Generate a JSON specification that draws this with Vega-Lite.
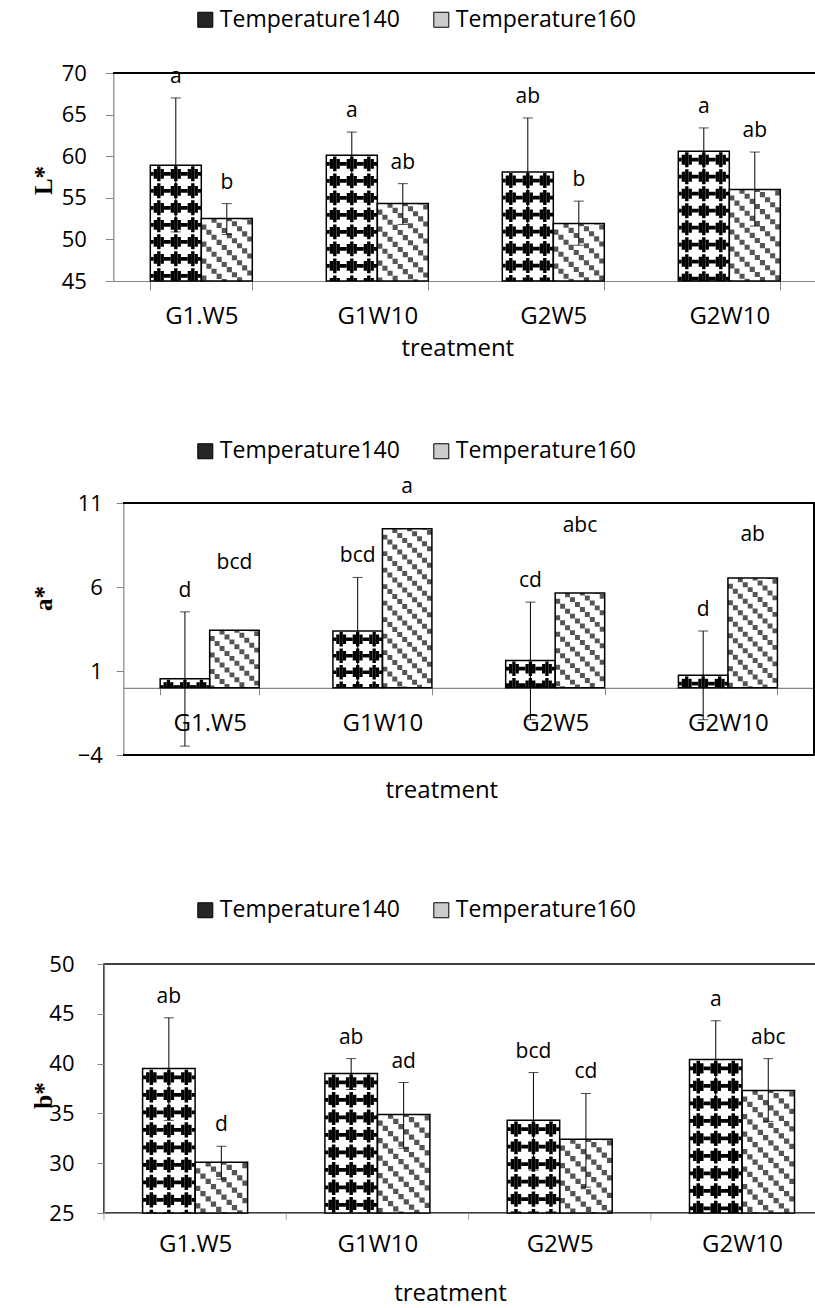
{
"$schema":"https://vega.github.io/schema/vega-lite/v6.json",
"padding":{"left":30,"top":8,"right":0,"bottom":0},
"spacing":79,
"resolve":{"scale":{"x":"independent","y":"independent","fill":"independent","xOffset":"independent"},"legend":{"fill":"independent"}},
"config":{
 "font":"Open Sans",
 "view":{"stroke":"#000000","strokeWidth":1.5},
 "axis":{"grid":false,"domainColor":"#868686","domainWidth":1.2,"tickColor":"#868686","tickWidth":1,"labelColor":"#000000","labelFont":"Open Sans","labelFontSize":22,"titleColor":"#000000","titleFont":"Open Sans","titleFontSize":24,"titleFontWeight":"normal"},
 "axisX":{"labelAngle":0,"labelFontSize":24,"tickBand":"extent","labelBaseline":"alphabetic","titleBaseline":"alphabetic","titleAlign":"center","labelFlush":false,"labelOverlap":false},
 "axisY":{"titleFont":"Liberation Serif","titleFontWeight":"bold","titleFontSize":25,"titleAngle":270,"titleBaseline":"middle","titleAlign":"center","labelBaseline":"middle"},
 "legend":{"orient":"none","direction":"horizontal","symbolType":"square","symbolSize":225,"symbolStrokeColor":"#000000","symbolStrokeWidth":1,"labelFont":"Open Sans","labelFontSize":23,"labelColor":"#000000","labelOffset":3,"columnPadding":29,"padding":0,"labelLimit":300},
 "rule":{"color":"#000000","strokeCap":"butt"},
 "tick":{"color":"#000000","thickness":1},
 "text":{"color":"#000000","font":"Open Sans"}
},
"datasets":{
 "L":[
  {"treatment":"G1.W5","temp":"Temperature140","mean":58.9,"lo":50.9,"hi":67.0,"letter":"a"},
  {"treatment":"G1.W5","temp":"Temperature160","mean":52.5,"lo":50.6,"hi":54.3,"letter":"b"},
  {"treatment":"G1W10","temp":"Temperature140","mean":60.1,"lo":57.2,"hi":62.9,"letter":"a"},
  {"treatment":"G1W10","temp":"Temperature160","mean":54.3,"lo":51.8,"hi":56.7,"letter":"ab"},
  {"treatment":"G2W5","temp":"Temperature140","mean":58.1,"lo":51.5,"hi":64.6,"letter":"ab"},
  {"treatment":"G2W5","temp":"Temperature160","mean":51.9,"lo":49.3,"hi":54.6,"letter":"b"},
  {"treatment":"G2W10","temp":"Temperature140","mean":60.6,"lo":57.7,"hi":63.4,"letter":"a"},
  {"treatment":"G2W10","temp":"Temperature160","mean":56.0,"lo":51.6,"hi":60.5,"letter":"ab"}
 ],
 "A":[
  {"treatment":"G1.W5","temp":"Temperature140","mean":0.54,"lo":-3.47,"hi":4.52,"letter":"d"},
  {"treatment":"G1.W5","temp":"Temperature160","mean":3.42,"lo":null,"hi":6.2,"letter":"bcd"},
  {"treatment":"G1W10","temp":"Temperature140","mean":3.38,"lo":0.13,"hi":6.57,"letter":"bcd"},
  {"treatment":"G1W10","temp":"Temperature160","mean":9.46,"lo":null,"hi":10.7,"letter":"a"},
  {"treatment":"G2W5","temp":"Temperature140","mean":1.63,"lo":-1.9,"hi":5.1,"letter":"cd"},
  {"treatment":"G2W5","temp":"Temperature160","mean":5.64,"lo":null,"hi":8.36,"letter":"abc"},
  {"treatment":"G2W10","temp":"Temperature140","mean":0.74,"lo":-1.9,"hi":3.38,"letter":"d"},
  {"treatment":"G2W10","temp":"Temperature160","mean":6.53,"lo":null,"hi":7.82,"letter":"ab"}
 ],
 "B":[
  {"treatment":"G1.W5","temp":"Temperature140","mean":39.5,"lo":34.3,"hi":44.6,"letter":"ab"},
  {"treatment":"G1.W5","temp":"Temperature160","mean":30.1,"lo":28.4,"hi":31.7,"letter":"d"},
  {"treatment":"G1W10","temp":"Temperature140","mean":39.0,"lo":37.4,"hi":40.5,"letter":"ab"},
  {"treatment":"G1W10","temp":"Temperature160","mean":34.9,"lo":31.5,"hi":38.1,"letter":"ad"},
  {"treatment":"G2W5","temp":"Temperature140","mean":34.3,"lo":29.3,"hi":39.1,"letter":"bcd"},
  {"treatment":"G2W5","temp":"Temperature160","mean":32.4,"lo":27.6,"hi":37.0,"letter":"cd"},
  {"treatment":"G2W10","temp":"Temperature140","mean":40.4,"lo":36.3,"hi":44.3,"letter":"a"},
  {"treatment":"G2W10","temp":"Temperature160","mean":37.3,"lo":34.2,"hi":40.5,"letter":"abc"}
 ]
},
"vconcat":[
{
"width":713.3,"height":208,
"view":{"stroke":null},
"data":{"name":"L"},
"encoding":{"x":{"field":"treatment","type":"nominal","sort":["G1.W5","G1W10","G2W5","G2W10"],"scale":{"range":[9.3,713.3],"paddingInner":0.4205,"paddingOuter":0.21025},"axis":{"title":"treatment","tickSize":9,"labelPadding":33,"titleX":353.3,"titleY":74}}},
"layer":[
 {"transform":[{"filter":"datum.mean < -1000"}],"mark":{"type":"bar","stroke":"#000000","strokeWidth":1},"encoding":{"xOffset":{"field":"temp","type":"nominal"},"y":{"field":"mean","type":"quantitative"},"fill":{"field":"temp","type":"nominal","scale":{"domain":["Temperature140","Temperature160"],"range":["#262626","#cccccc"]},"legend":{"title":null,"legendX":89.8,"legendY":-65}}}},
 {"mark":{"type":"bar","fill":"#ffffff"},"encoding":{"xOffset":{"field":"temp","type":"nominal","scale":{"paddingInner":0,"paddingOuter":0}},"y":{"field":"mean","type":"quantitative","scale":{"domain":[45,70],"nice":false,"zero":false},"axis":{"title":"L*","values":[45,50,55,60,65,70],"offset":-9.3,"tickSize":8,"labelPadding":19,"titleX":-70,"titleY":107}},"y2":{"datum":45}}},
 {"transform":[{"filter":"datum.temp == 'Temperature140'"}],"encoding":{"y":{"field":"mean","type":"quantitative"},"y2":{"datum":45}},"layer":[
  {"mark":{"type":"rule","xOffset":-49.3,"strokeWidth":3.4,"strokeDash":[3.74,13.26],"strokeDashOffset":10.37}},
  {"mark":{"type":"rule","xOffset":-45.9,"strokeWidth":3.4,"strokeDash":[9.86,7.14],"strokeDashOffset":13.43}},
  {"mark":{"type":"rule","xOffset":-42.5,"strokeWidth":3.4,"strokeDash":[14.96,2.04],"strokeDashOffset":15.98}},
  {"mark":{"type":"rule","xOffset":-39.1,"strokeWidth":3.4,"strokeDash":[9.86,7.14],"strokeDashOffset":13.43}},
  {"mark":{"type":"rule","xOffset":-34,"strokeWidth":6.8,"strokeDash":[3.74,13.26],"strokeDashOffset":10.37}},
  {"mark":{"type":"rule","xOffset":-28.9,"strokeWidth":3.4,"strokeDash":[9.86,7.14],"strokeDashOffset":13.43}},
  {"mark":{"type":"rule","xOffset":-25.5,"strokeWidth":3.4,"strokeDash":[14.96,2.04],"strokeDashOffset":15.98}},
  {"mark":{"type":"rule","xOffset":-22.1,"strokeWidth":3.4,"strokeDash":[9.86,7.14],"strokeDashOffset":13.43}},
  {"mark":{"type":"rule","xOffset":-17,"strokeWidth":6.8,"strokeDash":[3.74,13.26],"strokeDashOffset":10.37}},
  {"mark":{"type":"rule","xOffset":-11.9,"strokeWidth":3.4,"strokeDash":[9.86,7.14],"strokeDashOffset":13.43}},
  {"mark":{"type":"rule","xOffset":-8.5,"strokeWidth":3.4,"strokeDash":[14.96,2.04],"strokeDashOffset":15.98}},
  {"mark":{"type":"rule","xOffset":-5.1,"strokeWidth":3.4,"strokeDash":[9.86,7.14],"strokeDashOffset":13.43}},
  {"mark":{"type":"rule","xOffset":-1.7,"strokeWidth":3.4,"strokeDash":[3.74,13.26],"strokeDashOffset":10.37}}
 ]},
 {"transform":[{"filter":"datum.temp == 'Temperature160'"}],"encoding":{"y":{"field":"mean","type":"quantitative"},"y2":{"datum":45}},"layer":[
  {"mark":{"type":"rule","color":"#555555","xOffset":2.55,"strokeWidth":5.1,"strokeDash":[5.1,11.9],"strokeDashOffset":11.05}},
  {"mark":{"type":"rule","color":"#555555","xOffset":7.65,"strokeWidth":5.1,"strokeDash":[5.1,11.9],"strokeDashOffset":5.95}},
  {"mark":{"type":"rule","color":"#555555","xOffset":12.75,"strokeWidth":5.1,"strokeDash":[5.1,11.9],"strokeDashOffset":0.85}},
  {"mark":{"type":"rule","color":"#555555","xOffset":17.85,"strokeWidth":5.1,"strokeDash":[5.1,11.9],"strokeDashOffset":12.75}},
  {"mark":{"type":"rule","color":"#555555","xOffset":22.95,"strokeWidth":5.1,"strokeDash":[5.1,11.9],"strokeDashOffset":7.65}},
  {"mark":{"type":"rule","color":"#555555","xOffset":28.05,"strokeWidth":5.1,"strokeDash":[5.1,11.9],"strokeDashOffset":2.55}},
  {"mark":{"type":"rule","color":"#555555","xOffset":33.15,"strokeWidth":5.1,"strokeDash":[5.1,11.9],"strokeDashOffset":14.45}},
  {"mark":{"type":"rule","color":"#555555","xOffset":38.25,"strokeWidth":5.1,"strokeDash":[5.1,11.9],"strokeDashOffset":9.35}},
  {"mark":{"type":"rule","color":"#555555","xOffset":43.35,"strokeWidth":5.1,"strokeDash":[5.1,11.9],"strokeDashOffset":4.25}},
  {"mark":{"type":"rule","color":"#555555","xOffset":48.45,"strokeWidth":5.1,"strokeDash":[5.1,11.9],"strokeDashOffset":16.15}}
 ]},
 {"mark":{"type":"bar","fillOpacity":0,"stroke":"#000000","strokeWidth":1.5},"encoding":{"xOffset":{"field":"temp","type":"nominal"},"y":{"field":"mean","type":"quantitative"},"y2":{"datum":45}}},
 {"mark":{"type":"rule","strokeWidth":1.5,"xOffset":-88,"x2Offset":88},"encoding":{"x":{"datum":"G1.W5"},"x2":{"datum":"G2W10"},"y":{"datum":70,"type":"quantitative"}}},
 {"mark":{"type":"rule","strokeWidth":1.5,"xOffset":87.5},"encoding":{"x":{"datum":"G2W10"},"y":{"datum":45,"type":"quantitative"},"y2":{"datum":70}}},
 {"mark":{"type":"rule","strokeWidth":1},"encoding":{"xOffset":{"field":"temp","type":"nominal"},"y":{"field":"lo","type":"quantitative"},"y2":{"field":"hi"}}},
 {"mark":{"type":"tick","size":10},"encoding":{"xOffset":{"field":"temp","type":"nominal"},"y":{"field":"hi","type":"quantitative"}}},
 {"mark":{"type":"tick","size":10},"encoding":{"xOffset":{"field":"temp","type":"nominal"},"y":{"field":"lo","type":"quantitative"}}},
 {"mark":{"type":"text","dy":-21,"baseline":"middle","fontSize":21},"encoding":{"xOffset":{"field":"temp","type":"nominal"},"y":{"field":"hi","type":"quantitative"},"text":{"field":"letter"}}}
]
},
{
"spacing":94,
"resolve":{"scale":{"x":"independent","y":"independent","fill":"independent","xOffset":"independent"},"legend":{"fill":"independent"}},
"vconcat":[
{
"width":710.3,"height":252,
"view":{"stroke":null},
"data":{"name":"A"},
"encoding":{"x":{"field":"treatment","type":"nominal","sort":["G1.W5","G1W10","G2W5","G2W10"],"scale":{"range":[19.3,710.3],"paddingInner":0.427,"paddingOuter":0.2135},"axis":{"title":"treatment","offset":-67.2,"tickSize":7,"labelPadding":36,"titleX":337.3,"titleY":110}}},
"layer":[
 {"transform":[{"filter":"datum.mean < -1000"}],"mark":{"type":"bar","stroke":"#000000","strokeWidth":1},"encoding":{"xOffset":{"field":"temp","type":"nominal"},"y":{"field":"mean","type":"quantitative"},"fill":{"field":"temp","type":"nominal","scale":{"domain":["Temperature140","Temperature160"],"range":["#262626","#cccccc"]},"legend":{"title":null,"legendX":89.8,"legendY":-63.5}}}},
 {"mark":{"type":"bar","fill":"#ffffff"},"encoding":{"xOffset":{"field":"temp","type":"nominal","scale":{"paddingInner":0,"paddingOuter":0}},"y":{"field":"mean","type":"quantitative","scale":{"domain":[-4,11],"nice":false,"zero":false},"axis":{"title":"a*","values":[-4,1,6,11],"offset":-19.3,"tickSize":7,"labelPadding":14,"titleX":-80,"titleY":95}},"y2":{"datum":0}}},
 {"transform":[{"filter":"datum.temp == 'Temperature140'"}],"encoding":{"y":{"field":"mean","type":"quantitative"},"y2":{"datum":0}},"layer":[
  {"mark":{"type":"rule","xOffset":-47.85,"strokeWidth":3.3,"strokeDash":[3.63,12.87],"strokeDashOffset":10.065}},
  {"mark":{"type":"rule","xOffset":-44.55,"strokeWidth":3.3,"strokeDash":[9.57,6.93],"strokeDashOffset":13.035}},
  {"mark":{"type":"rule","xOffset":-41.25,"strokeWidth":3.3,"strokeDash":[14.52,1.98],"strokeDashOffset":15.51}},
  {"mark":{"type":"rule","xOffset":-37.95,"strokeWidth":3.3,"strokeDash":[9.57,6.93],"strokeDashOffset":13.035}},
  {"mark":{"type":"rule","xOffset":-33,"strokeWidth":6.6,"strokeDash":[3.63,12.87],"strokeDashOffset":10.065}},
  {"mark":{"type":"rule","xOffset":-28.05,"strokeWidth":3.3,"strokeDash":[9.57,6.93],"strokeDashOffset":13.035}},
  {"mark":{"type":"rule","xOffset":-24.75,"strokeWidth":3.3,"strokeDash":[14.52,1.98],"strokeDashOffset":15.51}},
  {"mark":{"type":"rule","xOffset":-21.45,"strokeWidth":3.3,"strokeDash":[9.57,6.93],"strokeDashOffset":13.035}},
  {"mark":{"type":"rule","xOffset":-16.5,"strokeWidth":6.6,"strokeDash":[3.63,12.87],"strokeDashOffset":10.065}},
  {"mark":{"type":"rule","xOffset":-11.55,"strokeWidth":3.3,"strokeDash":[9.57,6.93],"strokeDashOffset":13.035}},
  {"mark":{"type":"rule","xOffset":-8.25,"strokeWidth":3.3,"strokeDash":[14.52,1.98],"strokeDashOffset":15.51}},
  {"mark":{"type":"rule","xOffset":-4.95,"strokeWidth":3.3,"strokeDash":[9.57,6.93],"strokeDashOffset":13.035}},
  {"mark":{"type":"rule","xOffset":-1.65,"strokeWidth":3.3,"strokeDash":[3.63,12.87],"strokeDashOffset":10.065}}
 ]},
 {"transform":[{"filter":"datum.temp == 'Temperature160'"}],"encoding":{"y":{"field":"mean","type":"quantitative"},"y2":{"datum":0}},"layer":[
  {"mark":{"type":"rule","color":"#555555","xOffset":2.475,"strokeWidth":4.95,"strokeDash":[4.95,11.55],"strokeDashOffset":10.725}},
  {"mark":{"type":"rule","color":"#555555","xOffset":7.425,"strokeWidth":4.95,"strokeDash":[4.95,11.55],"strokeDashOffset":5.775}},
  {"mark":{"type":"rule","color":"#555555","xOffset":12.375,"strokeWidth":4.95,"strokeDash":[4.95,11.55],"strokeDashOffset":0.825}},
  {"mark":{"type":"rule","color":"#555555","xOffset":17.325,"strokeWidth":4.95,"strokeDash":[4.95,11.55],"strokeDashOffset":12.375}},
  {"mark":{"type":"rule","color":"#555555","xOffset":22.275,"strokeWidth":4.95,"strokeDash":[4.95,11.55],"strokeDashOffset":7.425}},
  {"mark":{"type":"rule","color":"#555555","xOffset":27.225,"strokeWidth":4.95,"strokeDash":[4.95,11.55],"strokeDashOffset":2.475}},
  {"mark":{"type":"rule","color":"#555555","xOffset":32.175,"strokeWidth":4.95,"strokeDash":[4.95,11.55],"strokeDashOffset":14.025}},
  {"mark":{"type":"rule","color":"#555555","xOffset":37.125,"strokeWidth":4.95,"strokeDash":[4.95,11.55],"strokeDashOffset":9.075}},
  {"mark":{"type":"rule","color":"#555555","xOffset":42.075,"strokeWidth":4.95,"strokeDash":[4.95,11.55],"strokeDashOffset":4.125}},
  {"mark":{"type":"rule","color":"#555555","xOffset":47.025,"strokeWidth":4.95,"strokeDash":[4.95,11.55],"strokeDashOffset":15.675}}
 ]},
 {"mark":{"type":"bar","fillOpacity":0,"stroke":"#000000","strokeWidth":1.5},"encoding":{"xOffset":{"field":"temp","type":"nominal"},"y":{"field":"mean","type":"quantitative"},"y2":{"datum":0}}},
 {"mark":{"type":"rule","strokeWidth":1.5,"xOffset":-86.375,"x2Offset":86.375},"encoding":{"x":{"datum":"G1.W5"},"x2":{"datum":"G2W10"},"y":{"datum":11,"type":"quantitative"}}},
 {"mark":{"type":"rule","strokeWidth":1.5,"xOffset":-86.375,"x2Offset":86.375},"encoding":{"x":{"datum":"G1.W5"},"x2":{"datum":"G2W10"},"y":{"datum":-4,"type":"quantitative"}}},
 {"mark":{"type":"rule","strokeWidth":1.5,"xOffset":86.375},"encoding":{"x":{"datum":"G2W10"},"y":{"datum":-4,"type":"quantitative"},"y2":{"datum":11}}},
 {"transform":[{"filter":"isValid(datum.lo)"}],"mark":{"type":"rule","strokeWidth":1},"encoding":{"xOffset":{"field":"temp","type":"nominal"},"y":{"field":"lo","type":"quantitative"},"y2":{"field":"hi"}}},
 {"transform":[{"filter":"isValid(datum.lo)"}],"mark":{"type":"tick","size":10},"encoding":{"xOffset":{"field":"temp","type":"nominal"},"y":{"field":"hi","type":"quantitative"}}},
 {"transform":[{"filter":"isValid(datum.lo)"}],"mark":{"type":"tick","size":10},"encoding":{"xOffset":{"field":"temp","type":"nominal"},"y":{"field":"lo","type":"quantitative"}}},
 {"mark":{"type":"text","dy":-21,"baseline":"middle","fontSize":21},"encoding":{"xOffset":{"field":"temp","type":"nominal"},"y":{"field":"hi","type":"quantitative"},"text":{"field":"letter"}}}
]
},
{
"width":714,"height":249,
"data":{"name":"B"},
"encoding":{"x":{"field":"treatment","type":"nominal","sort":["G1.W5","G1W10","G2W5","G2W10"],"scale":{"paddingInner":0.424,"paddingOuter":0.1703,"align":0.6216},"axis":{"title":"treatment","ticks":false,"tickSize":0,"labelPadding":38,"titleX":346,"titleY":87}}},
"layer":[
 {"transform":[{"filter":"datum.mean < -1000"}],"mark":{"type":"bar","stroke":"#000000","strokeWidth":1},"encoding":{"xOffset":{"field":"temp","type":"nominal"},"y":{"field":"mean","type":"quantitative"},"fill":{"field":"temp","type":"nominal","scale":{"domain":["Temperature140","Temperature160"],"range":["#262626","#cccccc"]},"legend":{"title":null,"legendX":89.8,"legendY":-65.5}}}},
 {"mark":{"type":"bar","fill":"#ffffff"},"encoding":{"xOffset":{"field":"temp","type":"nominal","scale":{"paddingInner":0,"paddingOuter":0}},"y":{"field":"mean","type":"quantitative","scale":{"domain":[25,50],"nice":false,"zero":false},"axis":{"title":"b*","values":[25,30,35,40,45,50],"tickSize":7,"labelPadding":23,"titleX":-60.7,"titleY":131}},"y2":{"datum":25}}},
 {"transform":[{"filter":"datum.temp == 'Temperature140'"}],"mark":{"type":"tick","xOffset":-91.15,"orient":"vertical","size":7.3,"yOffset":3.65,"color":"#868686","thickness":1},"encoding":{"y":{"datum":25,"type":"quantitative"}}},
 {"transform":[{"filter":"datum.temp == 'Temperature140'"}],"encoding":{"y":{"field":"mean","type":"quantitative"},"y2":{"datum":25}},"layer":[
  {"mark":{"type":"rule","xOffset":-50.75,"strokeWidth":3.5,"strokeDash":[3.85,13.65],"strokeDashOffset":10.675}},
  {"mark":{"type":"rule","xOffset":-47.25,"strokeWidth":3.5,"strokeDash":[10.15,7.35],"strokeDashOffset":13.825}},
  {"mark":{"type":"rule","xOffset":-43.75,"strokeWidth":3.5,"strokeDash":[15.4,2.1],"strokeDashOffset":16.45}},
  {"mark":{"type":"rule","xOffset":-40.25,"strokeWidth":3.5,"strokeDash":[10.15,7.35],"strokeDashOffset":13.825}},
  {"mark":{"type":"rule","xOffset":-35,"strokeWidth":7,"strokeDash":[3.85,13.65],"strokeDashOffset":10.675}},
  {"mark":{"type":"rule","xOffset":-29.75,"strokeWidth":3.5,"strokeDash":[10.15,7.35],"strokeDashOffset":13.825}},
  {"mark":{"type":"rule","xOffset":-26.25,"strokeWidth":3.5,"strokeDash":[15.4,2.1],"strokeDashOffset":16.45}},
  {"mark":{"type":"rule","xOffset":-22.75,"strokeWidth":3.5,"strokeDash":[10.15,7.35],"strokeDashOffset":13.825}},
  {"mark":{"type":"rule","xOffset":-17.5,"strokeWidth":7,"strokeDash":[3.85,13.65],"strokeDashOffset":10.675}},
  {"mark":{"type":"rule","xOffset":-12.25,"strokeWidth":3.5,"strokeDash":[10.15,7.35],"strokeDashOffset":13.825}},
  {"mark":{"type":"rule","xOffset":-8.75,"strokeWidth":3.5,"strokeDash":[15.4,2.1],"strokeDashOffset":16.45}},
  {"mark":{"type":"rule","xOffset":-5.25,"strokeWidth":3.5,"strokeDash":[10.15,7.35],"strokeDashOffset":13.825}},
  {"mark":{"type":"rule","xOffset":-1.75,"strokeWidth":3.5,"strokeDash":[3.85,13.65],"strokeDashOffset":10.675}}
 ]},
 {"transform":[{"filter":"datum.temp == 'Temperature160'"}],"encoding":{"y":{"field":"mean","type":"quantitative"},"y2":{"datum":25}},"layer":[
  {"mark":{"type":"rule","color":"#555555","xOffset":2.625,"strokeWidth":5.25,"strokeDash":[5.25,12.25],"strokeDashOffset":11.375}},
  {"mark":{"type":"rule","color":"#555555","xOffset":7.875,"strokeWidth":5.25,"strokeDash":[5.25,12.25],"strokeDashOffset":6.125}},
  {"mark":{"type":"rule","color":"#555555","xOffset":13.125,"strokeWidth":5.25,"strokeDash":[5.25,12.25],"strokeDashOffset":0.875}},
  {"mark":{"type":"rule","color":"#555555","xOffset":18.375,"strokeWidth":5.25,"strokeDash":[5.25,12.25],"strokeDashOffset":13.125}},
  {"mark":{"type":"rule","color":"#555555","xOffset":23.625,"strokeWidth":5.25,"strokeDash":[5.25,12.25],"strokeDashOffset":7.875}},
  {"mark":{"type":"rule","color":"#555555","xOffset":28.875,"strokeWidth":5.25,"strokeDash":[5.25,12.25],"strokeDashOffset":2.625}},
  {"mark":{"type":"rule","color":"#555555","xOffset":34.125,"strokeWidth":5.25,"strokeDash":[5.25,12.25],"strokeDashOffset":14.875}},
  {"mark":{"type":"rule","color":"#555555","xOffset":39.375,"strokeWidth":5.25,"strokeDash":[5.25,12.25],"strokeDashOffset":9.625}},
  {"mark":{"type":"rule","color":"#555555","xOffset":44.625,"strokeWidth":5.25,"strokeDash":[5.25,12.25],"strokeDashOffset":4.375}},
  {"mark":{"type":"rule","color":"#555555","xOffset":49.875,"strokeWidth":5.25,"strokeDash":[5.25,12.25],"strokeDashOffset":16.625}}
 ]},
 {"mark":{"type":"bar","fillOpacity":0,"stroke":"#000000","strokeWidth":1.5},"encoding":{"xOffset":{"field":"temp","type":"nominal"},"y":{"field":"mean","type":"quantitative"},"y2":{"datum":25}}},
 {"mark":{"type":"rule","strokeWidth":1},"encoding":{"xOffset":{"field":"temp","type":"nominal"},"y":{"field":"lo","type":"quantitative"},"y2":{"field":"hi"}}},
 {"mark":{"type":"tick","size":10},"encoding":{"xOffset":{"field":"temp","type":"nominal"},"y":{"field":"hi","type":"quantitative"}}},
 {"mark":{"type":"tick","size":10},"encoding":{"xOffset":{"field":"temp","type":"nominal"},"y":{"field":"lo","type":"quantitative"}}},
 {"mark":{"type":"text","dy":-21,"baseline":"middle","fontSize":21},"encoding":{"xOffset":{"field":"temp","type":"nominal"},"y":{"field":"hi","type":"quantitative"},"text":{"field":"letter"}}}
]
}
]
}
]
}
